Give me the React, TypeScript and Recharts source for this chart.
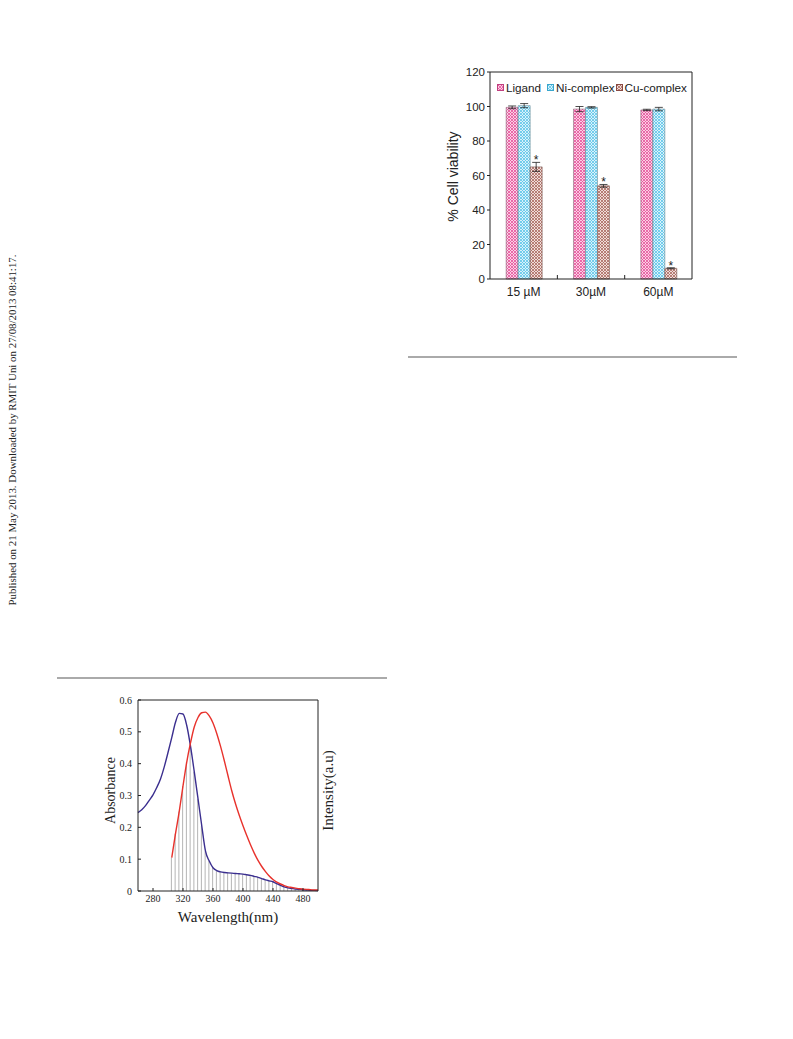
import React from 'react'
import {
  BarChart,
  Bar,
  XAxis,
  YAxis,
  ErrorBar,
  LabelList,
  Legend,
  ComposedChart,
  Line,
} from 'recharts'

// cell viability chart
const CONCENTRATIONS = ['15 µM', '30µM', '60µM']
const LIGAND = [99.5, 98.5, 98]
const LIGAND_ERR = [0.8, 1.5, 0.4]
const NI_COMPLEX = [100.5, 99.5, 98.5]
const NI_COMPLEX_ERR = [1.2, 0.4, 1]
const CU_COMPLEX = [65, 54, 6.2]
const CU_COMPLEX_ERR = [2.6, 0.8, 0.3]
const VIABILITY_TICKS = [0, 20, 40, 60, 80, 100, 120]
const SERIES_ORDER = ['ligand', 'ni', 'cu']

// absorbance / emission spectra
const WAVELENGTHS = [
  260, 265, 270, 275, 280, 285, 290, 295, 300, 305, 310, 315, 320, 325, 330, 335, 340,
  345, 350, 355, 360, 365, 370, 375, 380, 385, 390, 395, 400, 405, 410, 415, 420, 425,
  430, 435, 440, 445, 450, 455, 460, 465, 470, 475, 480, 485, 490, 495, 500,
]
const ABSORBANCE = [
  0.246, 0.255, 0.268, 0.285, 0.302, 0.325, 0.352, 0.39, 0.435,
  0.482, 0.53, 0.558, 0.556, 0.52, 0.455, 0.375, 0.29, 0.205, 0.125,
  0.094, 0.073, 0.064, 0.06, 0.058, 0.057, 0.056, 0.055, 0.054, 0.053,
  0.051, 0.049, 0.046, 0.043, 0.039, 0.035, 0.032, 0.029, 0.023, 0.018,
  0.013, 0.01, 0.008, 0.006, 0.005, 0.004, 0.003, 0.002, 0.002, 0.001,
]
const EMISSION = [
  null, null, null, null, null, null, null, null, null,
  0.105, 0.18, 0.25, 0.33, 0.405, 0.465, 0.515, 0.545, 0.56, 0.562,
  0.55, 0.528, 0.495, 0.455, 0.41, 0.362, 0.315, 0.274, 0.238, 0.205,
  0.174, 0.145, 0.119, 0.096, 0.077, 0.061, 0.047, 0.036, 0.028, 0.022,
  0.017, 0.013, 0.011, 0.009, 0.007, 0.006, 0.005, 0.004, 0.003, 0.003,
]
const OVERLAP_FROM = 305
const OVERLAP_TO = 485
const WAVELENGTH_TICKS = [280, 320, 360, 400, 440, 480]
const ABSORBANCE_TICKS = [0, 0.1, 0.2, 0.3, 0.4, 0.5, 0.6]

const SANS = 'Arial, "Liberation Sans", Helvetica, sans-serif'
const SERIF = '"Times New Roman", "Liberation Serif", serif'
const INK = '#222'

const viabilityData = CONCENTRATIONS.map((c, i) => ({
  conc: c,
  ligand: LIGAND[i],
  ligandErr: LIGAND_ERR[i],
  ni: NI_COMPLEX[i],
  niErr: NI_COMPLEX_ERR[i],
  cu: CU_COMPLEX[i],
  cuErr: CU_COMPLEX_ERR[i],
}))

const spectraData = WAVELENGTHS.map((wl, i) => {
  const em = EMISSION[i]
  const inOverlap = em != null && wl >= OVERLAP_FROM && wl <= OVERLAP_TO
  return {
    wl,
    abs: ABSORBANCE[i],
    em,
    overlap: inOverlap ? Math.min(ABSORBANCE[i], em as number) : null,
  }
})

// half of a category band in the viability plot (202px / 3 / 2)
const BAND_HALF = 33.7

const ConcTick = ({ x, y, payload, index }: any) => (
  <g>
    <text x={x} y={y + 8} dy="0.75em" textAnchor="middle" fontSize={12} fill={INK} fontFamily={SANS}>
      {payload.value}
    </text>
    {index < CONCENTRATIONS.length - 1 && (
      <line x1={x + BAND_HALF} x2={x + BAND_HALF} y1={y} y2={y - 4} stroke={INK} strokeWidth={1} />
    )}
  </g>
)

const Asterisk = (props: any) => {
  const { x, y, width, height, value, index } = props
  const perUnit = height / value
  const errTop = y - CU_COMPLEX_ERR[index] * perUnit
  return (
    <text x={x + width / 2} y={errTop + 2} textAnchor="middle" fontSize={12} fill={INK} fontFamily={SANS}>
      *
    </text>
  )
}

const LEGEND_EDGE: Record<string, string> = { ligand: '#c0407f', ni: '#3aa6cc', cu: '#8a4a42' }

const ViabilityLegend = ({ payload }: any) => {
  if (!payload) return null
  const items = SERIES_ORDER.map((k) => payload.find((p: any) => p.dataKey === k)).filter(Boolean)
  return (
    <div style={{ display: 'flex', alignItems: 'center', fontFamily: SANS, fontSize: 11.7, color: INK, whiteSpace: 'nowrap' }}>
      {items.map((entry: any, i: number) => (
        <div key={i} style={{ display: 'flex', alignItems: 'center', marginRight: i === 0 ? 6 : 1 }}>
          <svg width={7} height={7} style={{ marginRight: 2 }}>
            <rect x={0.5} y={0.5} width={6} height={6} fill={entry.color} stroke={LEGEND_EDGE[entry.dataKey]} strokeWidth={1} />
          </svg>
          <span>{entry.value}</span>
        </div>
      ))}
    </div>
  )
}

const rotatedLabel = (text: string, dx: number, dy: number, size: number, family: string) => (props: any) => {
  const { x, y, width, height } = props.viewBox
  const cx = x + width / 2 + dx
  const cy = y + height / 2 + dy
  return (
    <text
      x={cx}
      y={cy}
      transform={`rotate(-90 ${cx} ${cy})`}
      textAnchor="middle"
      dominantBaseline="central"
      fontSize={size}
      fontFamily={family}
      fill={INK}
    >
      {text}
    </text>
  )
}

const bottomLabel = (text: string, dy: number, size: number) => (props: any) => {
  const { x, y, width, height } = props.viewBox
  return (
    <text
      x={x + width / 2}
      y={y + height / 2 + dy}
      textAnchor="middle"
      dominantBaseline="central"
      fontSize={size}
      fontFamily={SERIF}
      fill={INK}
    >
      {text}
    </text>
  )
}

function ViabilityChart() {
  return (
    <BarChart
      width={260}
      height={250}
      data={viabilityData}
      margin={{ top: 11, right: 7, left: 0, bottom: 0 }}
      barCategoryGap="24%"
      barGap={0}
    >
      <defs>
        <pattern id="patLigand" patternUnits="userSpaceOnUse" width={3} height={3}>
          <rect width={3} height={3} fill="#fbd0e4" />
          <path d="M0,0 L3,3 M3,0 L0,3" stroke="#e4519a" strokeWidth={0.8} />
        </pattern>
        <pattern id="patNi" patternUnits="userSpaceOnUse" width={3} height={3}>
          <rect width={3} height={3} fill="#d8f2fb" />
          <path d="M0,0 L3,3 M3,0 L0,3" stroke="#5cc4e8" strokeWidth={0.8} />
        </pattern>
        <pattern id="patCu" patternUnits="userSpaceOnUse" width={3} height={3}>
          <rect width={3} height={3} fill="#f0dcd8" />
          <path d="M0,0 L3,3 M3,0 L0,3" stroke="#a8675e" strokeWidth={0.8} />
        </pattern>
      </defs>
      <XAxis
        dataKey="conc"
        height={31}
        axisLine={{ stroke: INK }}
        tickLine={false}
        tickSize={0}
        tickMargin={0}
        tick={<ConcTick />}
        interval={0}
      />
      <XAxis xAxisId="top" dataKey="conc" orientation="top" height={1} tick={false} tickLine={false} axisLine={{ stroke: INK }} />
      <YAxis
        domain={[0, 120]}
        ticks={VIABILITY_TICKS}
        width={50}
        axisLine={{ stroke: INK }}
        tickLine={{ stroke: INK }}
        tickSize={3}
        tickMargin={2}
        tick={{ fill: INK, fontSize: 11.5, fontFamily: SANS }}
        label={{ content: rotatedLabel('% Cell viability', -12, 1, 14, SANS) }}
      />
      <YAxis yAxisId="r" orientation="right" width={1} domain={[0, 120]} tick={false} tickLine={false} axisLine={{ stroke: INK }} />
      <Legend
        verticalAlign="middle"
        layout="horizontal"
        content={<ViabilityLegend />}
        wrapperStyle={{ top: 21, left: 57, width: 'auto', height: 14 }}
      />
      <Bar dataKey="ligand" name="Ligand" fill="url(#patLigand)" stroke="#8c6a7a" strokeWidth={0.6} isAnimationActive={false}>
        <ErrorBar dataKey="ligandErr" width={4} stroke={INK} strokeWidth={0.8} direction="y" />
      </Bar>
      <Bar dataKey="ni" name="Ni-complex" fill="url(#patNi)" stroke="#6a8a94" strokeWidth={0.6} isAnimationActive={false}>
        <ErrorBar dataKey="niErr" width={4} stroke={INK} strokeWidth={0.8} direction="y" />
      </Bar>
      <Bar dataKey="cu" name="Cu-complex" fill="url(#patCu)" stroke="#7a5a55" strokeWidth={0.6} isAnimationActive={false}>
        <ErrorBar dataKey="cuErr" width={4} stroke={INK} strokeWidth={0.8} direction="y" />
        <LabelList dataKey="cu" content={<Asterisk />} />
      </Bar>
    </BarChart>
  )
}

function SpectraChart() {
  return (
    <ComposedChart width={240} height={240} data={spectraData} margin={{ top: 9, right: 0, left: 0, bottom: 0 }}>
      <XAxis
        dataKey="wl"
        type="number"
        domain={[260, 500]}
        ticks={WAVELENGTH_TICKS}
        height={39}
        axisLine={{ stroke: INK }}
        tickLine={{ stroke: INK }}
        tickSize={-3}
        tickMargin={7}
        tick={{ fill: INK, fontSize: 10, fontFamily: SERIF }}
        label={{ content: bottomLabel('Wavelength(nm)', 6, 15) }}
      />
      <XAxis xAxisId="top" dataKey="wl" type="number" domain={[260, 500]} orientation="top" height={1} tick={false} tickLine={false} axisLine={{ stroke: INK }} />
      <YAxis
        domain={[0, 0.6]}
        ticks={ABSORBANCE_TICKS}
        width={38}
        axisLine={{ stroke: INK }}
        tickLine={{ stroke: INK }}
        tickSize={-3}
        tickMargin={9}
        tick={{ fill: INK, fontSize: 10, fontFamily: SERIF }}
        label={{ content: rotatedLabel('Absorbance', -9, -5, 14, SERIF) }}
      />
      <YAxis
        yAxisId="r"
        orientation="right"
        width={22}
        domain={[0, 0.6]}
        ticks={ABSORBANCE_TICKS}
        tick={false}
        tickLine={{ stroke: INK }}
        tickSize={-3}
        axisLine={{ stroke: INK }}
        label={{ content: rotatedLabel('Intensity(a.u)', -1, -5, 15, SERIF) }}
      />
      <Bar dataKey="overlap" barSize={1} fill="#b4b4b4" isAnimationActive={false} />
      <Line type="monotone" dataKey="abs" stroke="#3b2f8f" strokeWidth={1.4} dot={false} isAnimationActive={false} />
      <Line type="monotone" dataKey="em" stroke="#e8322c" strokeWidth={1.4} dot={false} connectNulls={false} isAnimationActive={false} />
    </ComposedChart>
  )
}

export default function App() {
  return (
    <div style={{ position: 'absolute', left: 0, top: 0, width: 793, height: 1039, background: '#fff', overflow: 'hidden' }}>
      <div
        style={{
          position: 'absolute',
          left: 12,
          top: 430,
          transform: 'translate(-50%, -50%) rotate(-90deg)',
          whiteSpace: 'nowrap',
          fontFamily: SERIF,
          fontSize: 10.9,
          color: '#222',
        }}
      >
        Published on 21 May 2013. Downloaded by RMIT Uni on 27/08/2013 08:41:17.
      </div>
      <div style={{ position: 'absolute', left: 408, top: 356, width: 329, height: 2, background: '#aaa' }} />
      <div style={{ position: 'absolute', left: 57, top: 677, width: 330, height: 2, background: '#aaa' }} />
      <div style={{ position: 'absolute', left: 440, top: 60 }}>
        <ViabilityChart />
      </div>
      <div style={{ position: 'absolute', left: 100, top: 690 }}>
        <SpectraChart />
      </div>
    </div>
  )
}
